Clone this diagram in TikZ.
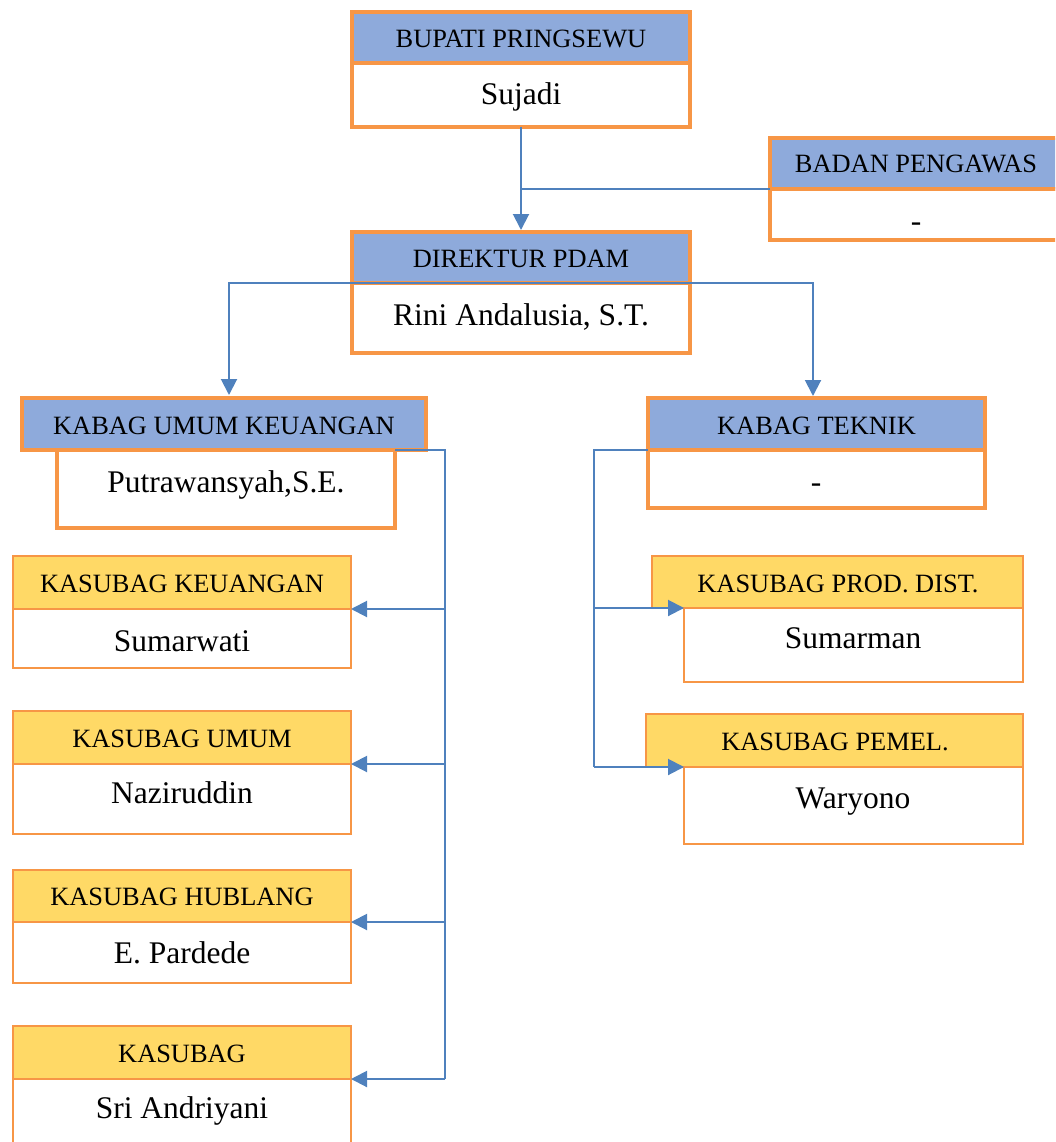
\documentclass[tikz,border=0pt]{standalone}
\usepackage{fontspec}
\setmainfont{Liberation Serif}
\usetikzlibrary{arrows.meta}
\definecolor{orgc}{HTML}{F79646}
\definecolor{bluef}{HTML}{8EAADB}
\definecolor{yelf}{HTML}{FFD966}
\definecolor{connc}{HTML}{4F81BD}
\begin{document}
\begin{tikzpicture}[x=1pt,y=-1pt,
 boxbase/.style={draw=orgc, rectangle, inner sep=0pt, outer sep=0pt, anchor=north west},
 thickhdr/.style={boxbase, line width=4pt, fill=bluef},
 thickbody/.style={boxbase, line width=4pt, fill=white},
 thinhdr/.style={boxbase, line width=2.5pt, fill=yelf},
 thinbody/.style={boxbase, line width=2.5pt, fill=white},
 hdrtxt/.style={anchor=base, inner sep=0pt, font=\fontsize{26.4}{30}\selectfont},
 bodytxt/.style={anchor=base, inner sep=0pt, font=\fontsize{31.5}{36}\selectfont},
 link/.style={draw=connc, line width=2pt},
 arrowlink/.style={link, -{Triangle[length=16pt,width=16pt]}},
]
\useasboundingbox (0,0) rectangle (1055,1142);
\clip (0,0) rectangle (1055,1142);

% top level
\node[thickbody, minimum width=338pt, minimum height=64pt] (bupB) at (352,63) {};
\node[thickhdr, minimum width=338pt, minimum height=51pt] (bupH) at (352,12) {};
\node[thickbody, minimum width=294pt, minimum height=51pt] (badB) at (770,189) {};
\node[thickhdr, minimum width=294pt, minimum height=51pt] (badH) at (770,138) {};
\node[thickbody, minimum width=338pt, minimum height=70pt] (dirB) at (352,283) {};
\node[thickhdr, minimum width=338pt, minimum height=51pt] (dirH) at (352,232) {};
\node[thickbody, minimum width=338pt, minimum height=78pt] (kuB) at (57,450) {};
\node[thickhdr, minimum width=404pt, minimum height=52pt] (kuH) at (22,398) {};
\node[thickbody, minimum width=337pt, minimum height=58pt] (ktB) at (648,450) {};
\node[thickhdr, minimum width=337pt, minimum height=52pt] (ktH) at (648,398) {};

% kasubag left
\node[thinbody, minimum width=338pt, minimum height=59pt] (k1B) at (13,609) {};
\node[thinhdr, minimum width=338pt, minimum height=53pt] (k1H) at (13,556) {};
\node[thinbody, minimum width=338pt, minimum height=70pt] (k2B) at (13,764) {};
\node[thinhdr, minimum width=338pt, minimum height=53pt] (k2H) at (13,711) {};
\node[thinbody, minimum width=338pt, minimum height=61pt] (k3B) at (13,922) {};
\node[thinhdr, minimum width=338pt, minimum height=52pt] (k3H) at (13,870) {};
\node[thinbody, minimum width=338pt, minimum height=80pt] (k4B) at (13,1079) {};
\node[thinhdr, minimum width=338pt, minimum height=53pt] (k4H) at (13,1026) {};

% kasubag right
\node[thinhdr, minimum width=371pt, minimum height=52pt] (pdH) at (652,556) {};
\node[thinbody, minimum width=339pt, minimum height=74pt] (pdB) at (684,608) {};
\node[thinhdr, minimum width=377pt, minimum height=53pt] (pmH) at (646,714) {};
\node[thinbody, minimum width=339pt, minimum height=77pt] (pmB) at (684,767) {};

% texts
\node[hdrtxt] (tbupH) at (521,48) {BUPATI PRINGSEWU};
\node[bodytxt] (tbupB) at (521,105) {Sujadi};
\node[hdrtxt] (tbadH) at (916,173) {BADAN PENGAWAS};
\node[bodytxt] (tbadB) at (916,231) {-};
\node[hdrtxt] (tdirH) at (521,267) {DIREKTUR PDAM};
\node[bodytxt] (tdirB) at (521,325) {Rini Andalusia, S.T.};
\node[hdrtxt] (tkuH) at (224,434) {KABAG UMUM KEUANGAN};
\node[bodytxt] (tkuB) at (226,492) {Putrawansyah,S.E.};
\node[hdrtxt] (tktH) at (816.5,434) {KABAG TEKNIK};
\node[bodytxt] (tktB) at (816,492) {-};
\node[hdrtxt] (tk1H) at (182,592) {KASUBAG KEUANGAN};
\node[bodytxt] (tk1B) at (182,651) {Sumarwati};
\node[hdrtxt] (tk2H) at (182,747) {KASUBAG UMUM};
\node[bodytxt] (tk2B) at (182,803) {Naziruddin};
\node[hdrtxt] (tk3H) at (182,905) {KASUBAG HUBLANG};
\node[bodytxt] (tk3B) at (182,963) {E. Pardede};
\node[hdrtxt] (tk4H) at (182,1062) {KASUBAG};
\node[bodytxt] (tk4B) at (182,1118) {Sri Andriyani};
\node[hdrtxt] (tpdH) at (838,592) {KASUBAG PROD. DIST.};
\node[bodytxt] (tpdB) at (853,648) {Sumarman};
\node[hdrtxt] (tpmH) at (835,750) {KASUBAG PEMEL.};
\node[bodytxt] (tpmB) at (853,808) {Waryono};

% connectors
\draw[arrowlink, shorten >=2pt] (bupB.south) -- (dirH.north);
\draw[link] (badH.south west) -- (badH.south west -| bupB.south);
\draw[arrowlink, shorten >=3pt] (dirH.south) -| ([xshift=5pt]kuH.north);
\draw[arrowlink, shorten >=2pt] (dirH.south) -| ([xshift=-3.5pt]ktH.north);

\draw[link] (kuB.north east) -- ++(50,0) coordinate (kuv) -- (kuv |- k4H.south east);
\draw[arrowlink] (kuv |- k1H.south east) -- (k1H.south east);
\draw[arrowlink] (kuv |- k2H.south east) -- (k2H.south east);
\draw[arrowlink] (kuv |- k3H.south east) -- (k3H.south east);
\draw[arrowlink] (kuv |- k4H.south east) -- (k4H.south east);

\draw[link] (ktH.south west) -- ++(-54,0) coordinate (ktv) -- (ktv |- pmB.north west);
\draw[arrowlink] (ktv |- pdB.north west) -- (pdB.north west);
\draw[arrowlink] (ktv |- pmB.north west) -- (pmB.north west);
\end{tikzpicture}
\end{document}
